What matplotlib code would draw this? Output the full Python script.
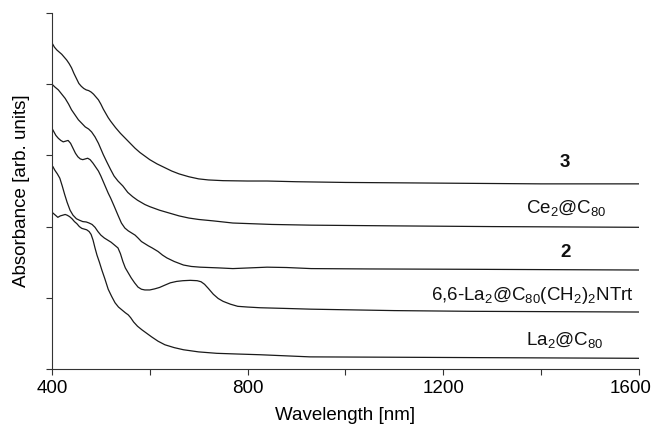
import matplotlib
matplotlib.use("Agg")
import matplotlib.pyplot as plt
import matplotlib.transforms as mtransforms

plt.rcParams['font.family'] = ['Liberation Sans', 'DejaVu Sans']
plt.rcParams['mathtext.default'] = 'regular'

# ---- data (wavelength nm, absorbance arb. units, stacked) ----
wl_3 = [400, 405, 410, 415, 420, 425, 430, 435, 440, 445, 450, 455, 460, 465, 470, 475, 480, 485,
        490, 495, 500, 505, 510, 515, 520, 530, 540, 550, 560, 570, 580, 590, 600, 615, 630, 645,
        660, 680, 700, 720, 750, 800, 840, 900, 1000, 1200, 1400, 1600]
ab_3 = [4.58, 4.52, 4.48, 4.45, 4.42, 4.38, 4.34, 4.29, 4.23, 4.15, 4.08, 4.01, 3.97, 3.94, 3.92,
        3.91, 3.89, 3.86, 3.82, 3.78, 3.72, 3.65, 3.59, 3.53, 3.48, 3.39, 3.31, 3.24, 3.17, 3.10,
        3.04, 2.99, 2.94, 2.88, 2.83, 2.78, 2.74, 2.70, 2.67, 2.655, 2.645, 2.64, 2.64, 2.63,
        2.62, 2.61, 2.60, 2.60]

wl_ce = [400, 406, 413, 420, 427, 434, 440, 447, 454, 461, 468, 475, 481, 488, 495, 500, 505, 512,
         520, 527, 535, 545, 555, 565, 575, 590, 600, 620, 640, 660, 680, 700, 730, 770, 850, 930,
         1100, 1300, 1600]
ab_ce = [4.00, 3.96, 3.92, 3.86, 3.80, 3.72, 3.64, 3.57, 3.50, 3.45, 3.40, 3.37, 3.33, 3.26, 3.17,
         3.09, 3.01, 2.91, 2.80, 2.71, 2.64, 2.57, 2.48, 2.42, 2.37, 2.31, 2.28, 2.23, 2.19, 2.15,
         2.12, 2.10, 2.08, 2.05, 2.03, 2.02, 2.01, 2.00, 1.99]

wl_2 = [400, 404, 408, 413, 418, 423, 428, 433, 438, 443, 448, 453, 458, 463, 468, 473, 478, 484,
        490, 495, 500, 505, 510, 515, 520, 527, 535, 542, 549, 556, 563, 570, 576, 583, 590, 597,
        605, 617, 626, 635, 650, 669, 685, 703, 740, 770, 805, 840, 880, 930, 1050, 1256, 1600]
ab_2 = [3.38, 3.33, 3.28, 3.24, 3.21, 3.19, 3.20, 3.21, 3.17, 3.10, 3.03, 2.98, 2.95, 2.94, 2.95,
        2.96, 2.94, 2.89, 2.83, 2.78, 2.71, 2.63, 2.55, 2.47, 2.40, 2.29, 2.16, 2.05, 1.98, 1.94,
        1.91, 1.88, 1.84, 1.79, 1.76, 1.73, 1.70, 1.65, 1.60, 1.56, 1.51, 1.46, 1.44, 1.43, 1.42,
        1.41, 1.42, 1.43, 1.425, 1.41, 1.405, 1.40, 1.39]

wl_nt = [402, 406, 411, 416, 421, 426, 431, 437, 443, 450, 456, 463, 470, 476, 482, 488, 494, 500,
         507, 514, 521, 528, 535, 540, 545, 550, 556, 562, 569, 576, 583, 590, 600, 610, 620, 630,
         642, 655, 668, 683, 697, 705, 712, 720, 730, 740, 750, 765, 780, 800, 826, 880, 930, 1100,
         1256, 1600]
ab_nt = [2.84, 2.79, 2.74, 2.68, 2.57, 2.45, 2.34, 2.23, 2.16, 2.11, 2.09, 2.07, 2.065, 2.05, 2.03,
         1.99, 1.93, 1.88, 1.84, 1.81, 1.78, 1.74, 1.70, 1.62, 1.51, 1.42, 1.35, 1.28, 1.21, 1.15,
         1.12, 1.11, 1.11, 1.125, 1.145, 1.175, 1.21, 1.23, 1.24, 1.245, 1.24, 1.225, 1.19, 1.13,
         1.05, 0.99, 0.95, 0.91, 0.88, 0.87, 0.86, 0.85, 0.84, 0.82, 0.81, 0.80]

wl_la = [402, 407, 412, 417, 422, 427, 431, 436, 441, 446, 451, 456, 461, 466, 471, 476, 480, 484,
         488, 492, 497, 502, 508, 515, 522, 529, 536, 543, 550, 556, 561, 567, 575, 584, 594, 604,
         617, 631, 650, 669, 700, 737, 780, 826, 928, 1100, 1256, 1600]
ab_la = [2.19, 2.16, 2.13, 2.15, 2.16, 2.17, 2.16, 2.14, 2.11, 2.07, 2.04, 2.00, 1.975, 1.965,
         1.955, 1.93, 1.89, 1.81, 1.70, 1.60, 1.50, 1.39, 1.27, 1.12, 1.02, 0.93, 0.87, 0.83, 0.79,
         0.76, 0.72, 0.66, 0.60, 0.55, 0.50, 0.45, 0.39, 0.34, 0.30, 0.27, 0.24, 0.22, 0.21, 0.20,
         0.17, 0.165, 0.16, 0.15]

labels = ['3', 'Ce$_2$@C$_{80}$', '2', '6,6-La$_2$@C$_{80}$(CH$_2$)$_2$NTrt', 'La$_2$@C$_{80}$']
label_x = [1450, 1452, 1450, 1383, 1450]
label_y = [2.84, 2.19, 1.57, 0.97, 0.34]
label_bold = [True, False, True, False, False]

x_ticks = [400, 600, 800, 1000, 1200, 1400, 1600]
x_ticklabels = ['400', '', '800', '', '1200', '', '1600']
y_ticks = [0, 1, 2, 3, 4, 5]

FS = 13.5

fig = plt.figure(figsize=(6.53, 4.30), dpi=100)
ax = fig.add_axes([0.0796, 0.1419, 0.8984, 0.8279])

for wl, ab in [(wl_3, ab_3), (wl_ce, ab_ce), (wl_2, ab_2), (wl_nt, ab_nt), (wl_la, ab_la)]:
    ax.plot(wl, ab, color='#1a1a1a', lw=0.9, solid_joinstyle='round')

for lab, xx, yy, b in zip(labels, label_x, label_y, label_bold):
    ax.text(xx, yy, lab, ha='center', va='baseline', fontsize=FS,
            fontweight='bold' if b else 'normal', color='#111111')

ax.set_xlim(400, 1600)
ax.set_ylim(0, 5)
ax.set_xticks(x_ticks)
ax.set_xticklabels(x_ticklabels)
ax.set_yticks(y_ticks)
ax.set_yticklabels([])
ax.tick_params(direction='out', length=4, width=0.8, color='#333333', labelsize=FS, pad=4)
for s in ['top', 'right']:
    ax.spines[s].set_visible(False)
for s in ['left', 'bottom']:
    ax.spines[s].set_linewidth(0.8)
    ax.spines[s].set_color('#333333')

# shift the last tick label left so it stays inside the figure
last = ax.get_xticklabels()[-1]
last.set_transform(last.get_transform() + mtransforms.ScaledTranslation(-8 / 100, 0, fig.dpi_scale_trans))

ax.set_xlabel('Wavelength [nm]', fontsize=FS, labelpad=7)
ax.set_ylabel('Absorbance [arb. units]', fontsize=FS, labelpad=8)

fig.savefig('out.png', dpi=100)
